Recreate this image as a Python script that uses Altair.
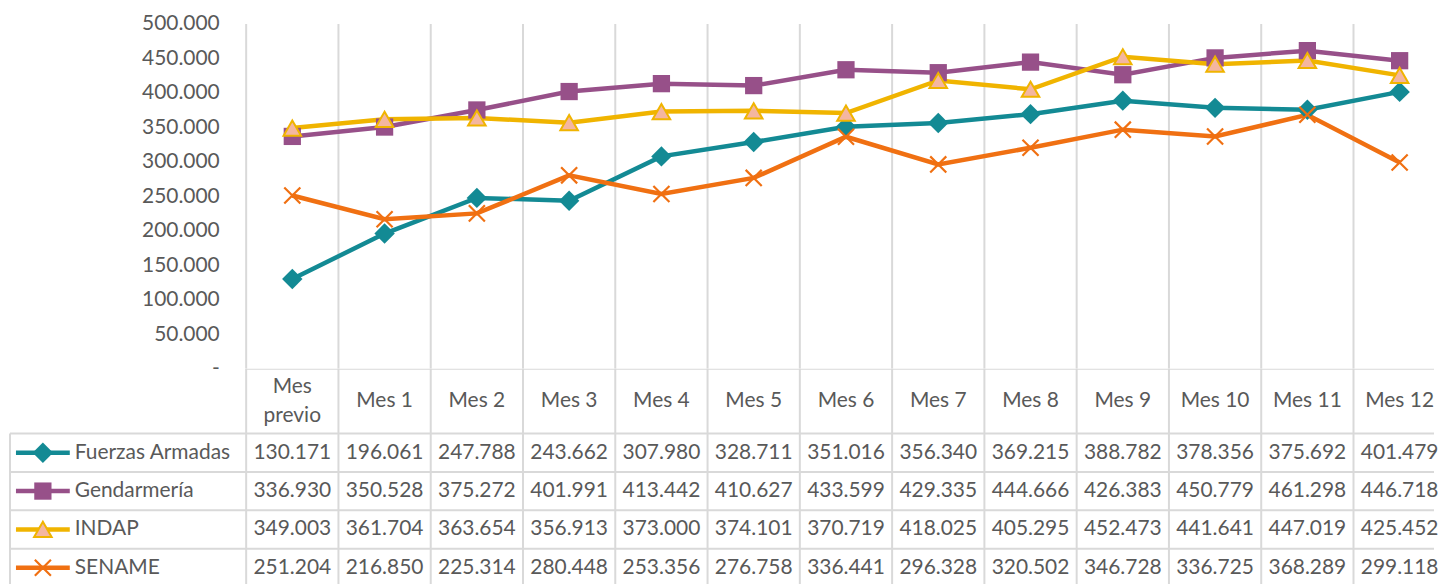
import altair as alt
import pandas as pd

categories = ["Mes previo", "Mes 1", "Mes 2", "Mes 3", "Mes 4", "Mes 5", "Mes 6",
              "Mes 7", "Mes 8", "Mes 9", "Mes 10", "Mes 11", "Mes 12"]
series = ["Fuerzas Armadas", "Gendarmería", "INDAP", "SENAME"]
fuerzas_armadas = [130171, 196061, 247788, 243662, 307980, 328711, 351016,
                   356340, 369215, 388782, 378356, 375692, 401479]
gendarmeria = [336930, 350528, 375272, 401991, 413442, 410627, 433599,
               429335, 444666, 426383, 450779, 461298, 446718]
indap = [349003, 361704, 363654, 356913, 373000, 374101, 370719,
         418025, 405295, 452473, 441641, 447019, 425452]
sename = [251204, 216850, 225314, 280448, 253356, 276758, 336441,
          296328, 320502, 346728, 336725, 368289, 299118]
y_ticks = [0, 50000, 100000, 150000, 200000, 250000, 300000, 350000, 400000, 450000, 500000]

colors = ["#138A94", "#975089", "#F0B400", "#F07012"]
TEXT = "#595959"
GRID = "#D9D9D9"
FONT = "Lato"
FS = 21
LINE_H = 29

# ---- layout (pixels) ----
COL_W = 92.6
LABEL_W = 238.0
PLOT_W = 1430
TOP_H = 346
BOT_H = 222
ROW_H = 38.5
HEAD_H = 65.0

X0 = -LABEL_W / COL_W
X1 = X0 + PLOT_W / COL_W
HEAD_U = HEAD_H / ROW_H
BOT_U = BOT_H / ROW_H

values = [fuerzas_armadas, gendarmeria, indap, sename]
rows = []
for r, (s, vals) in enumerate(zip(series, values)):
    for i, v in enumerate(vals):
        rows.append({"series": s, "cat": categories[i], "x": i + 0.5, "value": v,
                     "label": f"{v:,}".replace(",", "."),
                     "row": HEAD_U + r + 0.5})
df = pd.DataFrame(rows)

x_scale = alt.Scale(domain=[X0, X1], nice=False, zero=False)
color_enc = alt.Color("series:N", scale=alt.Scale(domain=series, range=colors), legend=None)

yaxis = alt.Axis(values=y_ticks, domain=False, ticks=False, tickSize=0, grid=False,
                 offset=-LABEL_W, labelPadding=27, labelFont=FONT, labelFontSize=FS,
                 labelColor=TEXT,
                 labelExpr="datum.value == 0 ? '-\u2002\u00a0' : replace(format(datum.value, ',.0f'), ',', '.')")
y_enc = alt.Y("value:Q", scale=alt.Scale(domain=[0, 500000], nice=False), axis=yaxis, title=None)

edges = pd.DataFrame({"e": list(range(len(categories) + 1))})


def markers(data, xfield, yenc):
    layers = []
    specs = [
        ("Fuerzas Armadas", dict(shape="diamond", filled=True, size=420, color=colors[0], opacity=1)),
        ("Gendarmería", dict(shape="square", filled=True, size=300, color=colors[1], opacity=1)),
        ("INDAP", dict(shape="triangle-up", filled=True, size=310, fill="#F4B6A0",
                       stroke=colors[2], strokeWidth=2, opacity=1)),
        ("SENAME", dict(shape="M-1,-1L1,1M-1,1L1,-1", filled=False, size=260,
                        color=colors[3], strokeWidth=2.2, opacity=1)),
    ]
    for name, kw in specs:
        layers.append(
            alt.Chart(data).transform_filter(alt.datum.series == name)
            .mark_point(**kw)
            .encode(x=alt.X(f"{xfield}:Q", scale=x_scale, axis=None), y=yenc)
        )
    return layers


# ---------- top chart ----------
vrules_top = alt.Chart(edges).mark_rule(color=GRID, strokeWidth=2, clip=True).encode(
    x=alt.X("e:Q", scale=x_scale, axis=None))
lines = alt.Chart(df).mark_line(strokeWidth=4.5).encode(
    x=alt.X("x:Q", scale=x_scale, axis=None), y=y_enc, color=color_enc)
top = alt.layer(vrules_top, lines, *markers(df, "x", y_enc)).properties(width=PLOT_W, height=TOP_H)

# ---------- bottom (data table) ----------
ty_scale = alt.Scale(domain=[0, BOT_U], reverse=True, nice=False, zero=False)

vrules_bot = alt.Chart(edges).mark_rule(color=GRID, strokeWidth=2, clip=True).encode(
    x=alt.X("e:Q", scale=x_scale, axis=None))

hl = pd.DataFrame({"y": [0.0] + [HEAD_U + k for k in range(len(series) + 1)],
                   "xa": [0.0] + [X0 + 1 / COL_W] * (len(series) + 1),
                   "xb": [13.0] * (len(series) + 2)})
hrules = alt.Chart(hl).mark_rule(color=GRID, strokeWidth=2, clip=True).encode(
    x=alt.X("xa:Q", scale=x_scale, axis=None), x2="xb:Q",
    y=alt.Y("y:Q", scale=ty_scale, axis=None))

lb = pd.DataFrame({"x": [X0 + 1 / COL_W], "ya": [HEAD_U], "yb": [HEAD_U + len(series)]})
left_border = alt.Chart(lb).mark_rule(color=GRID, strokeWidth=2, clip=True).encode(
    x=alt.X("x:Q", scale=x_scale, axis=None),
    y=alt.Y("ya:Q", scale=ty_scale, axis=None), y2="yb:Q")

hdr_text = [c.replace(" ", "\n") if c == "Mes previo" else c for c in categories]
hdr = pd.DataFrame({"x": [i + 0.5 for i in range(len(categories))],
                    "y": [HEAD_U / 2 - (t.count("\n")) * LINE_H / 2 / ROW_H for t in hdr_text],
                    "t": hdr_text})
header = alt.Chart(hdr).mark_text(font=FONT, fontSize=FS, color=TEXT, lineBreak="\n",
                                  lineHeight=LINE_H, baseline="middle").encode(
    x=alt.X("x:Q", scale=x_scale, axis=None), y=alt.Y("y:Q", scale=ty_scale, axis=None), text="t:N")

cells = alt.Chart(df).mark_text(font=FONT, fontSize=FS, color=TEXT, baseline="middle").encode(
    x=alt.X("x:Q", scale=x_scale, axis=None), y=alt.Y("row:Q", scale=ty_scale, axis=None), text="label:N")

leg = pd.DataFrame({"series": series,
                    "row": [HEAD_U + r + 0.5 for r in range(len(series))],
                    "la": [(16 - 247) / COL_W] * len(series),
                    "lb": [(70 - 247) / COL_W] * len(series),
                    "lm": [(43 - 247) / COL_W] * len(series),
                    "lt": [(75 - 247) / COL_W] * len(series)})
row_y = alt.Y("row:Q", scale=ty_scale, axis=None)
leg_lines = alt.Chart(leg).mark_rule(strokeWidth=4.5).encode(
    x=alt.X("la:Q", scale=x_scale, axis=None), x2="lb:Q", y=row_y, color=color_enc)
leg_text = alt.Chart(leg).mark_text(font=FONT, fontSize=FS, color=TEXT, align="left",
                                    baseline="middle").encode(
    x=alt.X("lt:Q", scale=x_scale, axis=None), y=row_y, text="series:N")

bottom = alt.layer(vrules_bot, hrules, left_border, header, cells, leg_lines,
                   *markers(leg, "lm", row_y), leg_text).properties(width=PLOT_W, height=BOT_H)

chart = alt.vconcat(top, bottom, spacing=0, bounds="flush").properties(
    padding={"left": 1, "top": 4, "right": 0, "bottom": 0}
).configure_view(strokeWidth=0).resolve_scale(x="independent", y="independent")

chart.save("out.html", embed_options={"renderer": "svg", "actions": False})
